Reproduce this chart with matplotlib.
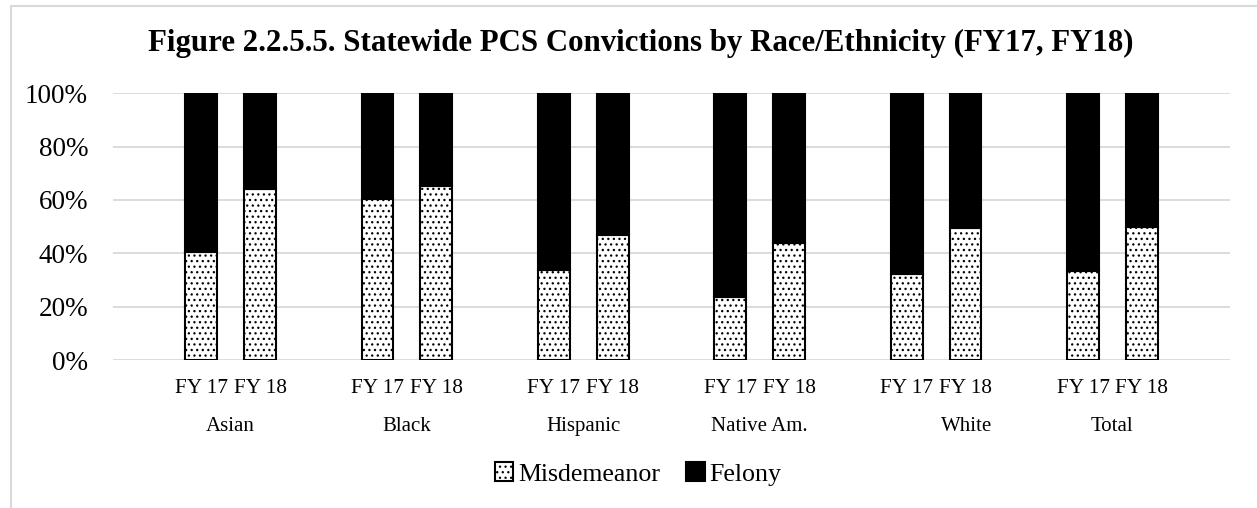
import matplotlib
matplotlib.use("Agg")
import matplotlib.pyplot as plt
import matplotlib.patches as mpatches
import matplotlib.transforms as mtransforms
from matplotlib.ticker import PercentFormatter

plt.rcParams['font.family'] = ['Liberation Serif', 'DejaVu Serif']
plt.rcParams['hatch.linewidth'] = 0.9

# data (share of PCS convictions, %)
groups = ['Asian', 'Black', 'Hispanic', 'Native Am.', 'White', 'Total']
years = ['FY 17', 'FY 18']
misd_fy17 = [40.6, 60.2, 33.7, 23.7, 32.2, 33.4]
misd_fy18 = [64.3, 65.3, 46.9, 43.8, 49.5, 49.8]
felony_fy17 = [100 - v for v in misd_fy17]
felony_fy18 = [100 - v for v in misd_fy18]

# each group uses three slots: FY17, FY18 and a blank gap
x17 = [3 * i + 1 for i in range(len(groups))]
x18 = [3 * i + 2 for i in range(len(groups))]
xs = x17 + x18
misd = misd_fy17 + misd_fy18
fel = felony_fy17 + felony_fy18

fig = plt.figure(figsize=(12.57, 5.08), dpi=100)
ax = fig.add_axes([113 / 1257, 1 - 360 / 508, (1230 - 113) / 1257, (360 - 93.3) / 508])

bw = 0.54
ax.bar(xs, misd, bw, color='white', edgecolor='black', hatch='...', linewidth=1.5,
       label='Misdemeanor', zorder=3)
ax.bar(xs, fel, bw, bottom=misd, color='black', edgecolor='black', linewidth=1.5,
       label='Felony', zorder=3)

ax.set_xlim(-0.5, 18.5)
ax.set_ylim(0, 100)
ax.set_yticks(range(0, 101, 20))
ax.yaxis.set_major_formatter(PercentFormatter(decimals=0))
ax.grid(axis='y', color='#d9d9d9', linewidth=1.3, zorder=0)
for s in ax.spines.values():
    s.set_visible(False)
ax.tick_params(axis='both', length=0)
ax.tick_params(axis='y', labelsize=19.5, pad=18)

ticks = sorted(xs)
ax.set_xticks(ticks)
ax.set_xticklabels([years[(t - 1) % 3] for t in ticks], fontsize=15.3)
ax.tick_params(axis='x', pad=13.5)

trans = mtransforms.blended_transform_factory(ax.transData, ax.transAxes)
label_shift = [0, 0, 0, 0, 0.52, 0]
for i, g in enumerate(groups):
    ax.text((x17[i] + x18[i]) / 2 + label_shift[i], -0.25, g, transform=trans,
            ha='center', va='center', fontsize=15)

fig.text(0.5096, 1 - 43 / 508,
         'Figure 2.2.5.5. Statewide PCS Convictions by Race/Ethnicity (FY17, FY18)',
         ha='center', va='center', fontsize=22.2, fontweight='bold')

leg = fig.legend(loc='center', bbox_to_anchor=(0.508, 1 - 474 / 508), ncol=2, frameon=False,
                 fontsize=18.6, handlelength=0.7, handleheight=0.7, handletextpad=0.2,
                 columnspacing=1.0)

frame = mpatches.Rectangle((11 / 1257, -0.1), 1.2, 1 - 6 / 508 + 0.1, transform=fig.transFigure,
                           fill=False, edgecolor='#d9d9d9', linewidth=1.5)
fig.patches.append(frame)

fig.savefig('out.png', dpi=100)
